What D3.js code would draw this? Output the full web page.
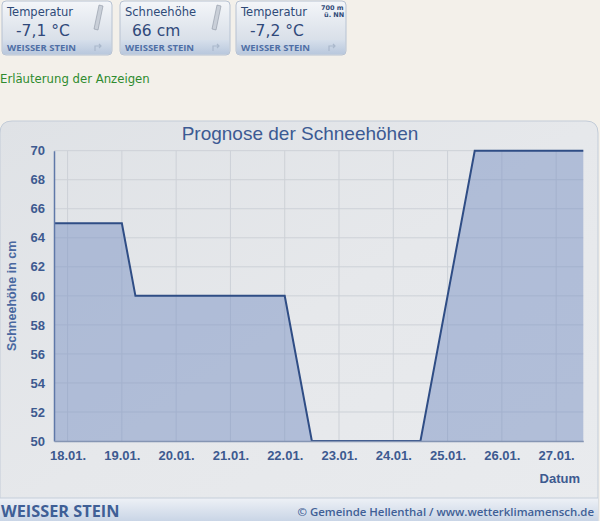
<!DOCTYPE html>
<html><head><meta charset="utf-8">
<script src="https://cdn.jsdelivr.net/npm/d3@7"></script>
<style>
html,body{margin:0;padding:0;background:#f3f0ea;}
svg{display:block;}
</style></head>
<body>
<svg id="c" width="600" height="521"></svg>
<script>
// ---- data ----
const times = ["2024-01-17T18:00","2024-01-19T00:00","2024-01-19T06:00","2024-01-22T00:00","2024-01-22T12:00","2024-01-24T12:00","2024-01-25T12:00","2024-01-27T12:00"];
const snowDepth = [65, 65, 60, 60, 50, 50, 70, 70];
const yTicks = [50,52,54,56,58,60,62,64,66,68,70];
const xTickDays = ["2024-01-18","2024-01-19","2024-01-20","2024-01-21","2024-01-22","2024-01-23","2024-01-24","2024-01-25","2024-01-26","2024-01-27"];
const widgetTitles = ["Temperatur","Schneehöhe","Temperatur"];
const widgetValues = ["-7,1 °C","66 cm","-7,2 °C"];
const stationName = "WEISSER STEIN";

const svg = d3.select("#c");
const parse = d3.timeParse("%Y-%m-%dT%H:%M");
const parseDay = d3.timeParse("%Y-%m-%d");
const data = times.map((t,i)=>({t:parse(t), v:snowDepth[i]}));

const defs = svg.append("defs");
const g1 = defs.append("linearGradient").attr("id","wbg").attr("x1",0).attr("y1",0).attr("x2",0).attr("y2",1);
g1.append("stop").attr("offset","0").attr("stop-color","#f4f6f9");
g1.append("stop").attr("offset","0.6").attr("stop-color","#dde3eb");
g1.append("stop").attr("offset","1").attr("stop-color","#cfd8e4");
const g2 = defs.append("linearGradient").attr("id","wband").attr("x1",0).attr("y1",0).attr("x2",0).attr("y2",1);
g2.append("stop").attr("offset","0").attr("stop-color","#d6dfeb");
g2.append("stop").attr("offset","1").attr("stop-color","#b9c8dd");
const g3 = defs.append("linearGradient").attr("id","panel").attr("x1",0).attr("y1",0).attr("x2",1).attr("y2",1);
g3.append("stop").attr("offset","0").attr("stop-color","#dfe2e6");
g3.append("stop").attr("offset","0.5").attr("stop-color","#e6e8eb");
g3.append("stop").attr("offset","1").attr("stop-color","#e9ebee");
const g4 = defs.append("linearGradient").attr("id","foot").attr("x1",0).attr("y1",0).attr("x2",0).attr("y2",1);
g4.append("stop").attr("offset","0").attr("stop-color","#eef1f6");
g4.append("stop").attr("offset","1").attr("stop-color","#c9d5e6");

// ---- widgets ----
const wx = [2,120,236];
wx.forEach((x,i)=>{
  const w = svg.append("g").attr("transform",`translate(${x},1)`);
  w.append("rect").attr("width",110).attr("height",54).attr("rx",4).attr("fill","url(#wbg)").attr("stroke","#b7c2d2");
  w.append("rect").attr("x",1).attr("y",39).attr("width",108).attr("height",14).attr("fill","url(#wband)");
  w.append("text").attr("x",5).attr("y",15).text(widgetTitles[i])
    .attr("font-family","DejaVu Sans, Verdana, sans-serif").attr("font-size",11.5).attr("fill","#2f4a78");
  w.append("text").attr("x",i===1?12:14).attr("y",35).text(widgetValues[i])
    .attr("font-family","DejaVu Sans, Verdana, sans-serif").attr("font-size",15.5).attr("fill","#30497a");
  w.append("text").attr("x",5).attr("y",50).text(stationName)
    .attr("font-family","Open Sans, sans-serif").attr("font-weight",700).attr("font-size",9.5).attr("fill","#4f6fa6");
  w.append("path").attr("d","M93 50 v-5 h6 m-2 -2 l2 2 l-2 2").attr("fill","none").attr("stroke","#aab8cc").attr("stroke-width",1.2);
  if(i===2){
    w.append("text").attr("x",85).attr("y",9).text("700 m").attr("font-family","DejaVu Sans, sans-serif").attr("font-size",6.5).attr("font-weight",700).attr("fill","#2f4a78");
    w.append("text").attr("x",88).attr("y",16).text("ü. NN").attr("font-family","DejaVu Sans, sans-serif").attr("font-size",6.5).attr("font-weight",700).attr("fill","#2f4a78");
  } else {
    w.append("path").attr("d","M97 4 l-5 24 l4 1 l5 -24 z").attr("fill","#c9cfd8").attr("stroke","#8d96a3").attr("stroke-width",0.6);
  }
});

svg.append("text").attr("x",0).attr("y",83).text("Erläuterung der Anzeigen")
  .attr("font-family","DejaVu Sans, Verdana, sans-serif").attr("font-size",11.7).attr("fill","#2e8b2e");

// ---- panel ----
svg.append("path").attr("d","M0 133 Q0 121 12 121 H586 Q598 121 598 133 V521 H0 Z")
  .attr("fill","url(#panel)").attr("stroke","#c3ccd8");
svg.append("rect").attr("x",0).attr("y",498).attr("width",598).attr("height",23).attr("fill","url(#foot)");
svg.append("line").attr("x1",0).attr("x2",598).attr("y1",498).attr("y2",498).attr("stroke","#c5ceda");
svg.append("text").attr("x",1).attr("y",517).text(stationName)
  .attr("font-family","Open Sans, sans-serif").attr("font-weight",700).attr("font-size",16.3).attr("fill","#3f5f96");
svg.append("text").attr("x",594).attr("y",516).attr("text-anchor","end").text("© Gemeinde Hellenthal / www.wetterklimamensch.de")
  .attr("font-family","Open Sans, sans-serif").attr("font-weight",600).attr("font-size",11.4).attr("fill","#3f5f96");

svg.append("text").attr("x",300).attr("y",140).attr("text-anchor","middle").text("Prognose der Schneehöhen")
  .attr("font-family","Liberation Sans, Arial, sans-serif").attr("font-size",19).attr("fill","#3c5a93");

// ---- chart ----
const m = {l:54, r:583.3, t:150.7, b:441};
const x = d3.scaleTime().domain([data[0].t, data[data.length-1].t]).range([m.l, m.r]);
const y = d3.scaleLinear().domain([50,70]).range([m.b, m.t]);
const dayTicks = xTickDays.map(parseDay);

const grid = svg.append("g");
grid.selectAll("line.h").data(yTicks.slice(1)).join("line")
  .attr("x1",m.l).attr("x2",m.r).attr("y1",d=>y(d)).attr("y2",d=>y(d))
  .attr("stroke","#cdd1d7").attr("stroke-width",1);
grid.selectAll("line.v").data(dayTicks).join("line")
  .attr("x1",d=>x(d)).attr("x2",d=>x(d)).attr("y1",m.t).attr("y2",m.b)
  .attr("stroke","#cdd1d7").attr("stroke-width",1);

const area = d3.area().x(d=>x(d.t)).y0(m.b).y1(d=>y(d.v));
const line = d3.line().x(d=>x(d.t)).y(d=>y(d.v));
svg.append("path").datum(data).attr("d",area).attr("fill","rgba(122,146,196,0.5)");
svg.append("path").datum(data).attr("d",line).attr("fill","none").attr("stroke","#2f4d85").attr("stroke-width",2);

// axes
const yAxis = svg.append("g").attr("transform",`translate(${m.l},0)`)
  .call(d3.axisLeft(y).tickValues(yTicks).tickSize(0).tickPadding(9));
yAxis.select(".domain").attr("stroke","#5f78a8").attr("stroke-width",1.5);
yAxis.selectAll("text").attr("font-family","Liberation Sans, Arial, sans-serif").attr("font-weight",700)
  .attr("font-size",13).attr("fill","#3d5a90");

const xAxis = svg.append("g").attr("transform",`translate(0,${m.b})`)
  .call(d3.axisBottom(x).tickValues(dayTicks).tickFormat(d3.timeFormat("%d.%m.")).tickSize(0).tickPadding(10));
xAxis.select(".domain").attr("stroke","#8595b3").attr("stroke-width",1.5);
xAxis.selectAll("text").attr("font-family","Liberation Sans, Arial, sans-serif").attr("font-weight",700)
  .attr("font-size",13).attr("fill","#3d5a90");

svg.append("text").attr("x",580).attr("y",483).attr("text-anchor","end").text("Datum")
  .attr("font-family","Liberation Sans, Arial, sans-serif").attr("font-weight",700).attr("font-size",13).attr("fill","#3d5a90");
svg.append("text").attr("transform",`translate(16,${(m.t+m.b)/2}) rotate(-90)`).attr("text-anchor","middle")
  .text("Schneehöhe in cm")
  .attr("font-family","Liberation Sans, Arial, sans-serif").attr("font-weight",700).attr("font-size",12.5).attr("fill","#4a68a0");
</script>
</body></html>
